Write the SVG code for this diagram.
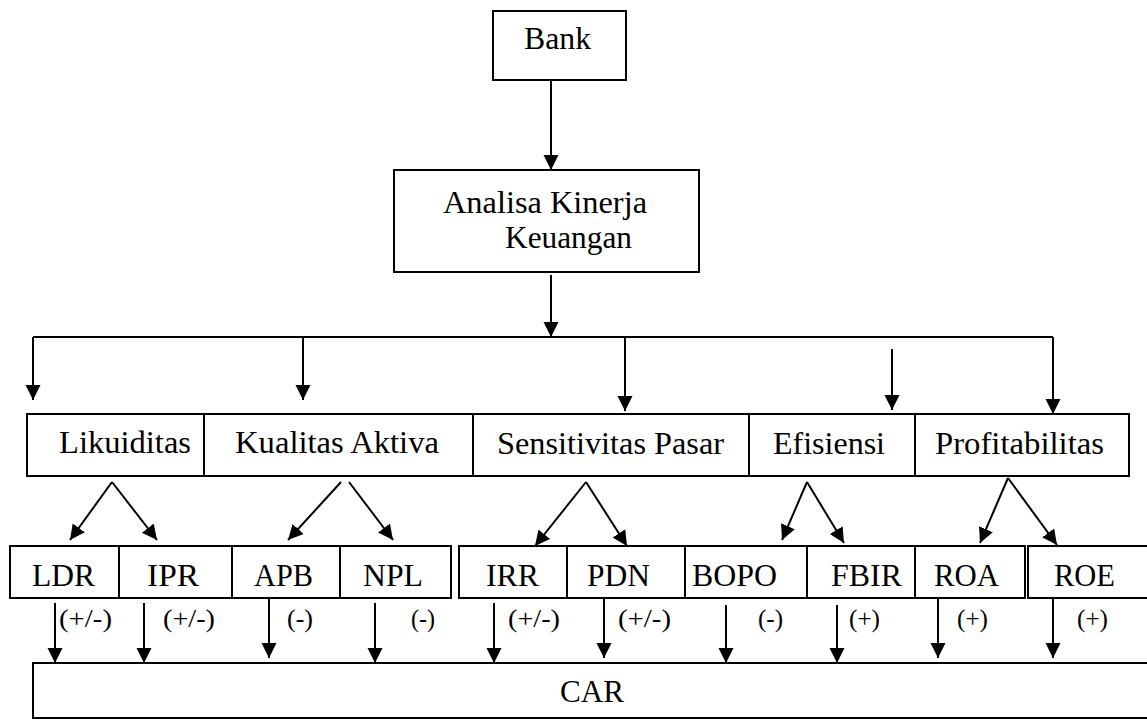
<svg xmlns="http://www.w3.org/2000/svg" width="1147" height="720" viewBox="0 0 1147 720">
<style>
rect{fill:#fff;stroke:#000;stroke-width:2}
text{font-size:32px;fill:#000}
.lbl{font-size:25px}
.c{fill:none;stroke:#000;stroke-width:2}
</style>
<defs>
<marker id="ah" markerUnits="userSpaceOnUse" markerWidth="16" markerHeight="16" refX="15" refY="8" orient="auto">
<path d="M0,0.5 L15,8 L0,15.5 z" fill="#000"/>
</marker>
</defs>
<rect x="0" y="0" width="1147" height="720" style="stroke:none"/>
<g font-family="'Liberation Serif', 'DejaVu Serif', serif">
<g id="bank"><rect x="493" y="11" width="133" height="69"/><text x="524" y="49" textLength="67" lengthAdjust="spacingAndGlyphs">Bank</text></g>
<g id="analisa"><rect x="394" y="170" width="305" height="102"/><text x="443" y="213" textLength="204" lengthAdjust="spacingAndGlyphs">Analisa Kinerja</text><text x="505" y="248" textLength="127" lengthAdjust="spacingAndGlyphs">Keuangan</text></g>
<g id="likuiditas"><rect x="27" y="414" width="177" height="62"/><text x="59" y="453" textLength="132" lengthAdjust="spacingAndGlyphs">Likuiditas</text></g>
<g id="kualitas"><rect x="204" y="414" width="269" height="62"/><text x="235" y="453" textLength="204" lengthAdjust="spacingAndGlyphs">Kualitas Aktiva</text></g>
<g id="sensitivitas"><rect x="473" y="414" width="276" height="62"/><text x="497" y="454" textLength="227" lengthAdjust="spacingAndGlyphs">Sensitivitas Pasar</text></g>
<g id="efisiensi"><rect x="749" y="414" width="166" height="62"/><text x="773" y="454" textLength="112" lengthAdjust="spacingAndGlyphs">Efisiensi</text></g>
<g id="profitabilitas"><rect x="915" y="414" width="214" height="62"/><text x="935" y="454" textLength="169" lengthAdjust="spacingAndGlyphs">Profitabilitas</text></g>
<g id="ldr"><rect x="10" y="546" width="109" height="52"/><text x="32" y="586" textLength="63" lengthAdjust="spacingAndGlyphs">LDR</text></g>
<g id="ipr"><rect x="119" y="546" width="113" height="52"/><text x="147" y="586" textLength="52" lengthAdjust="spacingAndGlyphs">IPR</text></g>
<g id="apb"><rect x="232" y="546" width="108" height="52"/><text x="254" y="586" textLength="59" lengthAdjust="spacingAndGlyphs">APB</text></g>
<g id="npl"><rect x="340" y="546" width="111" height="52"/><text x="363" y="586" textLength="60" lengthAdjust="spacingAndGlyphs">NPL</text></g>
<g id="irr"><rect x="459" y="546" width="108" height="52"/><text x="486" y="586" textLength="53" lengthAdjust="spacingAndGlyphs">IRR</text></g>
<g id="pdn"><rect x="567" y="546" width="118" height="52"/><text x="587" y="586" textLength="63" lengthAdjust="spacingAndGlyphs">PDN</text></g>
<g id="bopo"><rect x="685" y="546" width="122" height="52"/><text x="692" y="586" textLength="85" lengthAdjust="spacingAndGlyphs">BOPO</text></g>
<g id="fbir"><rect x="807" y="546" width="108" height="52"/><text x="831" y="586" textLength="71" lengthAdjust="spacingAndGlyphs">FBIR</text></g>
<g id="roa"><rect x="915" y="546" width="110" height="52"/><text x="934" y="586" textLength="65" lengthAdjust="spacingAndGlyphs">ROA</text></g>
<g id="roe"><rect x="1028" y="546" width="124" height="52"/><text x="1054" y="586" textLength="61" lengthAdjust="spacingAndGlyphs">ROE</text></g>
<g id="car"><rect x="33" y="663" width="1120" height="55"/><text x="560" y="702" textLength="64" lengthAdjust="spacingAndGlyphs">CAR</text></g>
<g id="connectors">
<path class="c" d="M551,80 V170" marker-end="url(#ah)"/>
<path class="c" d="M551,275 V337" marker-end="url(#ah)"/>
<path class="c" d="M33,337 H1053"/>
<path class="c" d="M33,337 V400" marker-end="url(#ah)"/>
<path class="c" d="M303,337 V400" marker-end="url(#ah)"/>
<path class="c" d="M625,337 V411" marker-end="url(#ah)"/>
<path class="c" d="M892,349 V410" marker-end="url(#ah)"/>
<path class="c" d="M1053,337 V414" marker-end="url(#ah)"/>
<path class="c" d="M112,482 L70,540" marker-end="url(#ah)"/>
<path class="c" d="M112,482 L157,540" marker-end="url(#ah)"/>
<path class="c" d="M341,482 L288,540" marker-end="url(#ah)"/>
<path class="c" d="M349,482 L393,540" marker-end="url(#ah)"/>
<path class="c" d="M586,482 L535,546" marker-end="url(#ah)"/>
<path class="c" d="M586,482 L627,546" marker-end="url(#ah)"/>
<path class="c" d="M807,482 L782,540" marker-end="url(#ah)"/>
<path class="c" d="M807,482 L844,543" marker-end="url(#ah)"/>
<path class="c" d="M1008,478 L980,543" marker-end="url(#ah)"/>
<path class="c" d="M1008,478 L1057,545" marker-end="url(#ah)"/>
<path class="c" d="M55,603 V663" marker-end="url(#ah)"/>
<path class="c" d="M144,603 V663" marker-end="url(#ah)"/>
<path class="c" d="M269,598 V658" marker-end="url(#ah)"/>
<path class="c" d="M375,603 V663" marker-end="url(#ah)"/>
<path class="c" d="M494,603 V663" marker-end="url(#ah)"/>
<path class="c" d="M604,598 V658" marker-end="url(#ah)"/>
<path class="c" d="M726,605 V663" marker-end="url(#ah)"/>
<path class="c" d="M837,605 V663" marker-end="url(#ah)"/>
<path class="c" d="M938,598 V658" marker-end="url(#ah)"/>
<path class="c" d="M1053,598 V658" marker-end="url(#ah)"/>
<text class="lbl" x="59" y="627" textLength="53" lengthAdjust="spacingAndGlyphs">(+/-)</text>
<text class="lbl" x="163" y="627" textLength="52" lengthAdjust="spacingAndGlyphs">(+/-)</text>
<text class="lbl" x="287" y="627" textLength="26" lengthAdjust="spacingAndGlyphs">(-)</text>
<text class="lbl" x="411" y="627" textLength="24" lengthAdjust="spacingAndGlyphs">(-)</text>
<text class="lbl" x="508" y="627" textLength="52" lengthAdjust="spacingAndGlyphs">(+/-)</text>
<text class="lbl" x="618" y="627" textLength="53" lengthAdjust="spacingAndGlyphs">(+/-)</text>
<text class="lbl" x="758" y="627" textLength="25" lengthAdjust="spacingAndGlyphs">(-)</text>
<text class="lbl" x="849" y="627" textLength="31" lengthAdjust="spacingAndGlyphs">(+)</text>
<text class="lbl" x="957" y="627" textLength="31" lengthAdjust="spacingAndGlyphs">(+)</text>
<text class="lbl" x="1077" y="627" textLength="31" lengthAdjust="spacingAndGlyphs">(+)</text>
</g>
</g>
</svg>
